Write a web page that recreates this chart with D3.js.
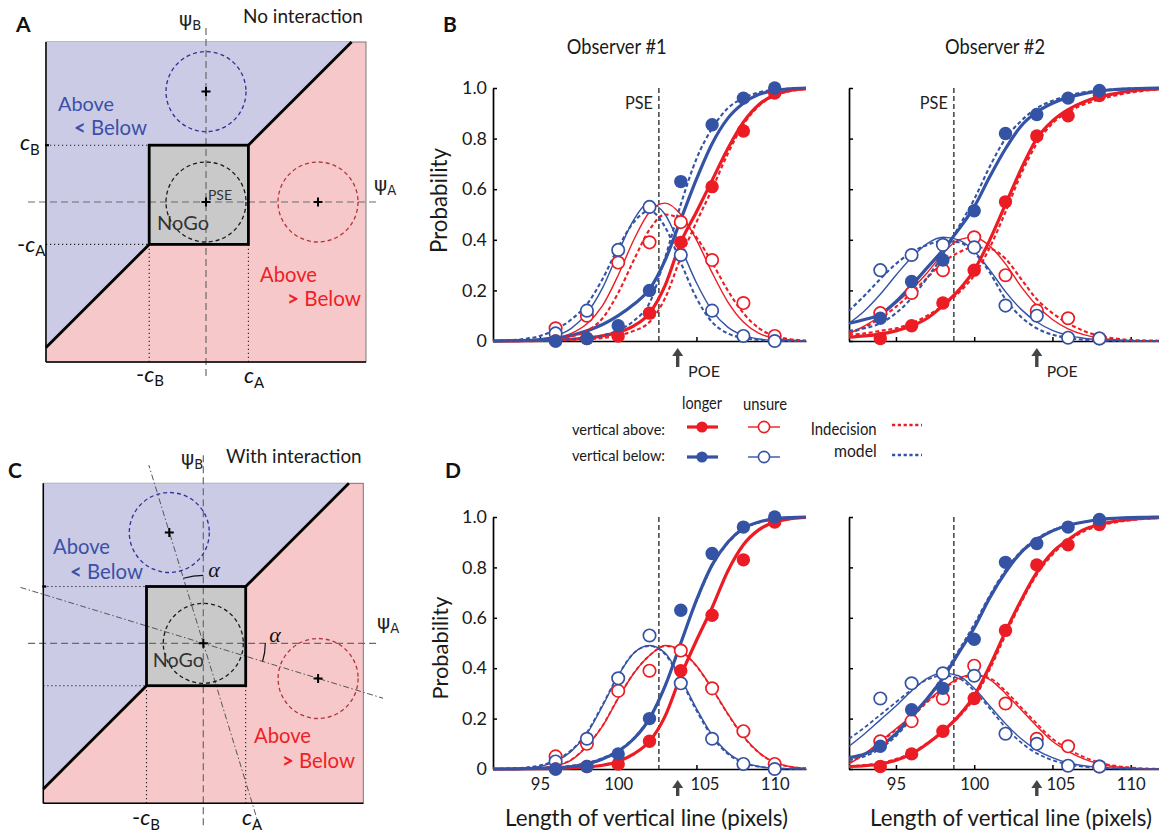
<!DOCTYPE html>
<html>
<head>
<meta charset="utf-8">
<script src="https://cdn.jsdelivr.net/npm/d3@7"></script>
<style>
html,body{margin:0;padding:0;background:#fff;}
svg{display:block;}
</style>
</head>
<body>
<svg id="fig" width="1159" height="835" xmlns="http://www.w3.org/2000/svg"></svg>
<script>
// ================= DATA =================
const lengthGrid = [92,93,94,95,96,97,98,99,100,101,102,103,104,105,106,107,108,109,110,111,112];
const xTicks = [95,100,105,110];
const probTicks = [0,0.2,0.4,0.6,0.8,1.0];

// Observer #1 measured proportions
const obs1Lengths     = [96,98,100,102,104,106,108,110];
const obs1LongerAbove = [0.00,0.01,0.02,0.11,0.39,0.61,0.83,0.98];
const obs1LongerBelow = [0.00,0.01,0.06,0.20,0.63,0.855,0.96,1.00];
const obs1UnsureAbove = [0.05,0.10,0.31,0.39,0.47,0.32,0.15,0.02];
const obs1UnsureBelow = [0.03,0.12,0.36,0.53,0.34,0.12,0.02,0.00];
// Observer #2 measured proportions
const obs2Lengths     = [94,96,98,100,102,104,106,108];
const obs2LongerAbove = [0.01,0.06,0.15,0.28,0.55,0.81,0.89,0.97];
const obs2LongerBelow = [0.09,0.235,0.32,0.515,0.82,0.895,0.96,0.99];
const obs2UnsureAbove = [0.11,0.19,0.28,0.41,0.26,0.12,0.09,0.01];
const obs2UnsureBelow = [0.28,0.34,0.38,0.37,0.14,0.10,0.013,0.01];

const obs1PSE = 102.6, obs1POE = 103.8;
const obs2PSE = 98.7,  obs2POE = 104.0;

// ---- Panel B, observer #1: full model fits (solid) ----
const b1FitLongerAbove = [0,0,0.001,0.002,0.004,0.007,0.012,0.02,0.035,0.06,0.11,0.22,0.39,0.51,0.635,0.76,0.865,0.935,0.972,0.99,0.997];
const b1FitLongerBelow = [0,0.001,0.002,0.005,0.01,0.022,0.04,0.065,0.10,0.145,0.205,0.32,0.48,0.64,0.78,0.88,0.94,0.975,0.99,0.997,1.0];
const b1FitUnsureAbove = [0,0.001,0.002,0.005,0.012,0.03,0.068,0.14,0.26,0.40,0.51,0.545,0.50,0.40,0.27,0.155,0.075,0.03,0.011,0.004,0.001];
const b1FitUnsureBelow = [0,0.001,0.003,0.008,0.02,0.05,0.11,0.21,0.35,0.48,0.545,0.50,0.37,0.23,0.12,0.055,0.022,0.008,0.003,0.001,0];
// ---- Panel B, observer #1: indecision model (dotted) ----
const b1IndLongerAbove = [0,0,0,0.001,0.002,0.004,0.007,0.012,0.022,0.04,0.075,0.17,0.33,0.47,0.60,0.74,0.855,0.93,0.97,0.988,0.996];
const b1IndLongerBelow = [0,0,0.001,0.002,0.004,0.007,0.012,0.022,0.042,0.08,0.15,0.33,0.54,0.72,0.84,0.92,0.96,0.983,0.993,0.998,1.0];
const b1IndUnsureAbove = [0,0,0.001,0.003,0.007,0.018,0.04,0.09,0.19,0.32,0.44,0.50,0.48,0.41,0.31,0.20,0.11,0.05,0.02,0.007,0.002];
const b1IndUnsureBelow = [0.001,0.003,0.008,0.02,0.045,0.085,0.145,0.245,0.37,0.47,0.515,0.45,0.31,0.17,0.075,0.03,0.012,0.004,0.001,0,0];

// ---- Panel B, observer #2 ----
const b2FitLongerAbove = [0.015,0.02,0.027,0.04,0.06,0.09,0.14,0.20,0.28,0.40,0.54,0.68,0.80,0.87,0.915,0.945,0.965,0.978,0.988,0.994,0.997];
const b2FitLongerBelow = [0.07,0.085,0.105,0.155,0.22,0.29,0.36,0.44,0.53,0.65,0.76,0.85,0.905,0.94,0.963,0.978,0.988,0.994,0.997,0.999,1.0];
const b2FitUnsureAbove = [0.03,0.06,0.10,0.15,0.205,0.27,0.345,0.40,0.41,0.375,0.305,0.215,0.14,0.085,0.048,0.025,0.012,0.005,0.002,0.001,0];
const b2FitUnsureBelow = [0.07,0.12,0.185,0.26,0.33,0.385,0.41,0.40,0.355,0.28,0.195,0.125,0.075,0.042,0.022,0.011,0.005,0.002,0.001,0,0];
const b2IndLongerAbove = [0.025,0.03,0.04,0.05,0.07,0.10,0.14,0.19,0.26,0.37,0.51,0.66,0.78,0.86,0.905,0.935,0.955,0.97,0.982,0.99,0.995];
const b2IndLongerBelow = [0.04,0.05,0.07,0.11,0.17,0.25,0.34,0.45,0.56,0.69,0.80,0.87,0.92,0.95,0.97,0.983,0.99,0.995,0.998,0.999,1.0];
const b2IndUnsureAbove = [0.03,0.055,0.09,0.135,0.19,0.25,0.31,0.35,0.37,0.365,0.325,0.245,0.165,0.11,0.07,0.04,0.02,0.01,0.004,0.002,0.001];
const b2IndUnsureBelow = [0.12,0.18,0.245,0.305,0.35,0.38,0.395,0.39,0.35,0.27,0.165,0.095,0.05,0.025,0.012,0.005,0.002,0.001,0,0,0];

// ---- Panel D, observer #1 ----
const d1FitLongerAbove = [0,0,0.001,0.001,0.002,0.004,0.008,0.015,0.03,0.06,0.11,0.21,0.37,0.51,0.64,0.785,0.89,0.95,0.98,0.993,0.998];
const d1FitLongerBelow = [0,0,0.001,0.003,0.005,0.01,0.02,0.04,0.07,0.12,0.20,0.33,0.50,0.67,0.81,0.90,0.955,0.98,0.993,0.998,1.0];
const d1FitUnsureAbove = [0,0,0.001,0.004,0.012,0.035,0.09,0.17,0.28,0.38,0.45,0.49,0.47,0.41,0.32,0.22,0.13,0.065,0.026,0.009,0.003];
const d1FitUnsureBelow = [0,0.001,0.003,0.01,0.03,0.07,0.14,0.25,0.37,0.46,0.49,0.46,0.36,0.24,0.135,0.065,0.027,0.01,0.003,0.001,0];
const d1IndLongerAbove = [0,0,0.001,0.001,0.002,0.004,0.008,0.016,0.031,0.061,0.112,0.212,0.372,0.512,0.642,0.785,0.888,0.948,0.978,0.992,0.997];
const d1IndLongerBelow = [0,0.001,0.002,0.004,0.007,0.013,0.024,0.044,0.074,0.124,0.204,0.334,0.50,0.665,0.805,0.895,0.952,0.978,0.991,0.997,1.0];
const d1IndUnsureAbove = [0,0,0.001,0.004,0.013,0.037,0.092,0.172,0.282,0.381,0.45,0.488,0.468,0.408,0.318,0.218,0.128,0.064,0.025,0.009,0.003];
const d1IndUnsureBelow = [0.001,0.003,0.006,0.014,0.035,0.075,0.145,0.255,0.372,0.46,0.488,0.455,0.352,0.232,0.128,0.06,0.024,0.009,0.003,0.001,0];

// ---- Panel D, observer #2 ----
const d2FitLongerAbove = [0.01,0.013,0.02,0.035,0.06,0.10,0.15,0.21,0.29,0.41,0.545,0.67,0.78,0.86,0.91,0.95,0.97,0.983,0.99,0.995,0.998];
const d2FitLongerBelow = [0.045,0.06,0.09,0.14,0.21,0.28,0.36,0.46,0.56,0.68,0.78,0.86,0.91,0.945,0.967,0.98,0.99,0.995,0.998,0.999,1.0];
const d2FitUnsureAbove = [0.02,0.06,0.11,0.16,0.21,0.27,0.32,0.36,0.375,0.355,0.30,0.235,0.17,0.11,0.07,0.04,0.02,0.009,0.004,0.001,0];
const d2FitUnsureBelow = [0.09,0.14,0.195,0.25,0.31,0.36,0.38,0.37,0.32,0.25,0.18,0.12,0.075,0.045,0.024,0.013,0.007,0.003,0.001,0,0];
const d2IndLongerAbove = [0.012,0.016,0.024,0.04,0.065,0.103,0.15,0.205,0.28,0.395,0.53,0.66,0.77,0.85,0.905,0.942,0.965,0.978,0.987,0.993,0.996];
const d2IndLongerBelow = [0.035,0.05,0.08,0.13,0.20,0.28,0.37,0.47,0.575,0.69,0.79,0.865,0.915,0.948,0.968,0.98,0.988,0.993,0.996,0.998,0.999];
const d2IndUnsureAbove = [0.025,0.06,0.105,0.155,0.205,0.265,0.315,0.355,0.37,0.36,0.31,0.245,0.18,0.12,0.08,0.048,0.026,0.013,0.006,0.002,0.001];
const d2IndUnsureBelow = [0.12,0.165,0.215,0.265,0.315,0.355,0.37,0.36,0.31,0.24,0.165,0.105,0.062,0.035,0.018,0.009,0.004,0.002,0.001,0,0];

// ---- Decision-space diagrams (A, C) ----
const criterionA = 1.06, criterionB = 1.42;     // cA, cB
const interactionAngleDeg = 17;                  // alpha
const meansNoInteraction = [[0,0],[0,2.76],[2.8,0]];
const meansInteraction   = [[0,0],[-0.85,2.77],[2.87,-0.88]];
const noiseRadius = 1.0;

// ================= STYLE =================
const FONT = "Lato, 'Liberation Sans', Arial, sans-serif";
const RED = "#ec1c24", BLUE = "#3453a4";
const LAV = "#cbcbe6", PINK = "#f7c8c9", NOGO = "#c9c9c9";
const TXT_BLUE = "#3b50a8", TXT_RED = "#ee1f26";
const meanColors = ["#1a1a1a","#2e3192","#b0353a"];

const svg = d3.select("#fig");
svg.append("rect").attr("width",1159).attr("height",835).attr("fill","#fff");

// ---------- text helpers ----------
// o.w alone: font size fitted to width; o.w + o.size: given size, squeezed/stretched to width
function rich(g, parts, o){
  const t = g.append("text").attr("font-family", o.family || FONT).attr("font-size", 100)
    .attr("fill", o.fill || "#1a1a1a").attr("text-anchor", o.anchor || "start");
  if (o.weight) t.attr("font-weight", o.weight);
  if (o.style) t.attr("font-style", o.style);
  parts.forEach(p => {
    const s = t.append("tspan").text(p.t);
    if (p.weight) s.attr("font-weight", p.weight);
    if (p.style) s.attr("font-style", p.style);
    if (p.size) s.attr("font-size", p.size + "em");
    if (p.dy != null) s.attr("dy", p.dy + "em");
    if (p.family) s.attr("font-family", p.family);
  });
  let size = o.size || 20;
  if (o.w && !o.size) { const w = t.node().getComputedTextLength(); size = 100 * o.w / w; }
  t.attr("font-size", size.toFixed(2));
  if (o.w && o.size) t.attr("textLength", o.w).attr("lengthAdjust", "spacingAndGlyphs");
  if (o.rotate) t.attr("transform", `translate(${o.x},${o.y}) rotate(${o.rotate})`);
  else t.attr("x", o.x).attr("y", o.y);
  return t;
}
function label(g, str, o){ return rich(g, [{t:str}], o); }
function fitSize(str, w, weight){
  const t = svg.append("text").attr("font-family", FONT).attr("font-size", 100).text(str);
  if (weight) t.attr("font-weight", weight);
  const s = 100 * w / t.node().getComputedTextLength(); t.remove(); return s;
}

// ================= DIAGRAM PANELS (A, C) =================
function diagram(cfg){
  const sx = d3.scaleLinear().domain([-4,4]).range(cfg.xr);
  const sy = d3.scaleLinear().domain([-4,4]).range(cfg.yr);
  const g = svg.append("g");
  const cA = criterionA, cB = criterionB, run = 4 - cB;
  const P = p => [sx(p[0]), sy(p[1])];
  const ln = d3.line();

  g.append("rect").attr("x", sx(-4)).attr("y", sy(4)).attr("width", sx(4)-sx(-4)).attr("height", sy(-4)-sy(4))
    .attr("fill", PINK).attr("stroke", "#6a6a6a").attr("stroke-width", 0.9);
  const bluePoly = [[-4,4],[cA+run,4],[cA,cB],[-cB,cB],[-cB,-cA],[-4,-cA-run]];
  g.append("path").attr("d", ln(bluePoly.map(P)) + "Z").attr("fill", LAV);

  // dotted guides
  const dotted = (a,b) => g.append("line").attr("x1",P(a)[0]).attr("y1",P(a)[1]).attr("x2",P(b)[0]).attr("y2",P(b)[1])
      .attr("stroke","#222").attr("stroke-width",1.1).attr("stroke-dasharray","1.2,2.8");
  dotted([-4,cB],[-cB,cB]); dotted([-4,-cA],[-cB,-cA]);
  dotted([-cB,-4],[-cB,-cA]); dotted([cA,-4],[cA,-cA]);

  // NoGo box fill
  g.append("rect").attr("x", sx(-cB)).attr("y", sy(cB)).attr("width", sx(cA)-sx(-cB)).attr("height", sy(-cA)-sy(cB)).attr("fill", NOGO);

  // dashed psi axes
  g.append("line").attr("x1", sx(cfg.axX[0])).attr("x2", sx(cfg.axX[1])).attr("y1", sy(0)).attr("y2", sy(0))
    .attr("stroke","#6a6a6a").attr("stroke-width",1.2).attr("stroke-dasharray","7,4");
  g.append("line").attr("x1", sx(0)).attr("x2", sx(0)).attr("y1", sy(cfg.axY[1])).attr("y2", sy(cfg.axY[0]))
    .attr("stroke","#6a6a6a").attr("stroke-width",1.2).attr("stroke-dasharray","7,4");

  // rotated axes (interaction)
  if (cfg.rotated) {
    const a = interactionAngleDeg * Math.PI / 180;
    const u = [-Math.sin(a), Math.cos(a)], v = [Math.cos(a), -Math.sin(a)];
    const seg = (dir, t0, t1) => g.append("path").attr("d", ln([[dir[0]*t0, dir[1]*t0],[dir[0]*t1, dir[1]*t1]].map(P)))
      .attr("stroke","#555").attr("stroke-width",1).attr("fill","none").attr("stroke-dasharray","6,2.5,1.5,2.5");
    seg(u, -4.8, 4.66); seg(v, -4.78, 4.7);
    const c = P([0,0]);
    const p1 = d3.path(); p1.arc(c[0], c[1], 68, -Math.PI/2 - a, -Math.PI/2);
    const p2 = d3.path(); p2.arc(c[0], c[1], 62, 0, a);
    [p1,p2].forEach(p => g.append("path").attr("d", p.toString()).attr("fill","none").attr("stroke","#111").attr("stroke-width",1.2));
  }

  // noise circles
  cfg.means.forEach((m,i) => g.append("circle").attr("cx", sx(m[0])).attr("cy", sy(m[1])).attr("r", sx(noiseRadius)-sx(0))
    .attr("fill","none").attr("stroke", meanColors[i]).attr("stroke-width",1.3).attr("stroke-dasharray","4,3"));

  // decision boundaries
  g.append("path").attr("d", ln([[-4,-cA-run],[-cB,-cA]].map(P))).attr("stroke","#000").attr("stroke-width",2.8).attr("fill","none");
  g.append("path").attr("d", ln([[cA,cB],[cA+run,4]].map(P))).attr("stroke","#000").attr("stroke-width",2.8).attr("fill","none");
  g.append("rect").attr("x", sx(-cB)).attr("y", sy(cB)).attr("width", sx(cA)-sx(-cB)).attr("height", sy(-cA)-sy(cB))
    .attr("fill","none").attr("stroke","#000").attr("stroke-width",2.8);

  // crosses
  cfg.means.forEach(m => { const [px,py] = P(m);
    g.append("path").attr("d", `M${px-4.5},${py}H${px+4.5}M${px},${py-4.5}V${py+4.5}`).attr("stroke","#000").attr("stroke-width",2); });

  // left & bottom axes
  g.append("line").attr("x1", sx(-4)).attr("x2", sx(-4)).attr("y1", sy(4)).attr("y2", sy(-4)).attr("stroke","#000").attr("stroke-width",1.5);
  g.append("line").attr("x1", sx(-4)).attr("x2", sx(4)).attr("y1", sy(-4)).attr("y2", sy(-4)).attr("stroke","#000").attr("stroke-width",1.5);
  g.append("line").attr("x1", sx(-4)-1).attr("x2", sx(-4)+3).attr("y1", sy(cB)).attr("y2", sy(cB)).attr("stroke","#000").attr("stroke-width",2.2);

  // texts
  const T = cfg.text;
  label(g, cfg.letter, {x:T.letter[0], y:T.letter[1], size:21, weight:"bold", fill:"#111"});
  label(g, cfg.title, {x:T.title[0], y:T.title[1], w:T.title[2], fill:"#1a1a1a"});
  rich(g, [{t:"ψ"},{t:"B", size:0.66, dy:0.3}], {x:T.psiB[0], y:T.psiB[1], size:20, fill:"#222", family:"'DejaVu Sans', sans-serif"});
  rich(g, [{t:"ψ"},{t:"A", size:0.66, dy:0.3}], {x:T.psiA[0], y:T.psiA[1], size:20, fill:"#222", family:"'DejaVu Sans', sans-serif"});
  label(g, "Above", {x:T.aboveB[0], y:T.aboveB[1], w:T.aboveB[2], fill:TXT_BLUE});
  rich(g, [{t:"<", weight:"bold"},{t:" Below"}], {x:T.belowB[0], y:T.belowB[1], w:T.belowB[2], fill:TXT_BLUE});
  label(g, "Above", {x:T.aboveR[0], y:T.aboveR[1], w:T.aboveR[2], fill:TXT_RED});
  rich(g, [{t:">", weight:"bold"},{t:" Below"}], {x:T.belowR[0], y:T.belowR[1], w:T.belowR[2], fill:TXT_RED});
  label(g, "NoGo", {x:T.nogo[0], y:T.nogo[1], w:T.nogo[2], fill:"#333"});
  if (T.pse) label(g, "PSE", {x:T.pse[0], y:T.pse[1], w:T.pse[2], fill:"#333"});
  const cLab = (pos, neg, sub) => rich(g, (neg ? [{t:"-"}] : []).concat([{t:"c", style:"italic"},{t:sub, size:0.68, dy:0.32}]),
      {x:pos[0], y:pos[1], size:22, fill:"#111"});
  T.cLabels.forEach(c => cLab(c.pos, c.neg, c.sub));
  if (T.alpha) T.alpha.forEach(p => label(g, "α", {x:p[0], y:p[1], size:22, anchor:"middle", fill:"#111", family:"'Liberation Serif', serif", style:"italic"}));
}

diagram({
  xr:[46,366], yr:[362,42], means: meansNoInteraction, axX:[-4.45,4.35], axY:[-4.45,4.35], rotated:false,
  letter:"A", title:"No interaction",
  text:{ letter:[16,32], title:[243,23,120], psiB:[179,26], psiA:[374,191],
    aboveB:[58,111,56], belowB:[74,135,73], aboveR:[260,282,57], belowR:[287,306,74],
    nogo:[157,230,52], pse:[208,200,24],
    cLabels:[{pos:[20,150],neg:false,sub:"B"},{pos:[17,251.5],neg:true,sub:"A"},{pos:[136,381.5],neg:true,sub:"B"},{pos:[244,383],neg:false,sub:"A"}] }
});
diagram({
  xr:[43.3,363.3], yr:[803.3,483.3], means: meansInteraction, axX:[-4.38,4.42], axY:[-4.55,4.7], rotated:true,
  letter:"C", title:"With interaction",
  text:{ letter:[8,478], title:[226,463,135.7], psiB:[181,465], psiA:[377,629],
    aboveB:[53,554,57], belowB:[70,579,73], aboveR:[254,743,57], belowR:[282,768,73],
    nogo:[152.7,667,51.3], pse:null,
    cLabels:[{pos:[132,825],neg:true,sub:"B"},{pos:[242,825],neg:false,sub:"A"}],
    alpha:[[214,577],[275,642]] }
});

// ================= PSYCHOMETRIC PANELS (B, D) =================
const xTickSize = fitSize("100", 29), yTickSize = fitSize("1.0", 25);

function psychPanel(cfg){
  const x = d3.scaleLinear().domain([92,112]).range(cfg.xr);
  const y = d3.scaleLinear().domain([0,1]).range(cfg.yr);
  const g = svg.append("g");

  // axes
  const ya = d3.axisLeft(y).tickValues(probTicks).tickSize(-4).tickSizeOuter(0).tickPadding(6)
    .tickFormat(cfg.yLabels ? (d => d === 0 ? "0" : d3.format(".1f")(d)) : (() => ""));
  const yg = g.append("g").attr("transform", `translate(${cfg.xr[0]},0)`).call(ya);
  const xa = d3.axisBottom(x).tickValues(xTicks).tickSize(-4).tickSizeOuter(0).tickPadding(9)
    .tickFormat(cfg.xLabels ? d3.format("d") : (() => ""));
  const xg = g.append("g").attr("transform", `translate(0,${cfg.yr[0]})`).call(xa);
  yg.attr("font-family", FONT).attr("font-size", yTickSize.toFixed(2));
  xg.attr("font-family", FONT).attr("font-size", xTickSize.toFixed(2));
  // the "105" label sits just right of the POE arrow
  xg.selectAll(".tick").filter(d => d === 105).select("text").attr("dx", 8);
  [yg, xg].forEach(a => {
    a.select(".domain").attr("stroke","#000").attr("stroke-width",1.7);
    a.selectAll(".tick line").attr("stroke","#000").attr("stroke-width",1.5);
    a.selectAll(".tick text").attr("fill","#1a1a1a");
  });

  // PSE line
  g.append("line").attr("x1", x(cfg.pse)).attr("x2", x(cfg.pse)).attr("y1", y(1)).attr("y2", y(0))
    .attr("stroke","#222").attr("stroke-width",1.3).attr("stroke-dasharray","5,3");

  const line = d3.line().x((d,i) => x(lengthGrid[i])).y(d => y(d)).curve(d3.curveMonotoneX);
  const colors = [RED, BLUE, RED, BLUE];
  const drawModel = () => [2,3,0,1].forEach(k => g.append("path").attr("d", line(cfg.model[k])).attr("fill","none")
      .attr("stroke", colors[k]).attr("stroke-width", cfg.modelW).attr("stroke-dasharray","4,2.6"));
  if (!cfg.modelOnTop) drawModel();
  [2,3].forEach(k => g.append("path").attr("d", line(cfg.fit[k])).attr("fill","none").attr("stroke", colors[k]).attr("stroke-width",1.4));
  [0,1].forEach(k => g.append("path").attr("d", line(cfg.fit[k])).attr("fill","none").attr("stroke", colors[k]).attr("stroke-width",3.2));
  if (cfg.modelOnTop) drawModel();

  // markers: unsure (open) first, then longer (filled)
  const mark = (vals, color, filled) => g.append("g").selectAll("circle").data(vals).join("circle")
    .attr("cx", (d,i) => x(cfg.lengths[i])).attr("cy", d => y(d)).attr("r", filled ? 6.7 : 6.2)
    .attr("fill", filled ? color : "#fff").attr("stroke", filled ? "none" : color).attr("stroke-width", 1.7);
  mark(cfg.pts[2], RED, false); mark(cfg.pts[3], BLUE, false);
  mark(cfg.pts[0], RED, true);  mark(cfg.pts[1], BLUE, true);

  // POE arrow
  const ax = x(cfg.poe), [tip, bot] = cfg.arrow;
  g.append("line").attr("x1", ax).attr("x2", ax).attr("y1", bot).attr("y2", tip + 6).attr("stroke","#444").attr("stroke-width",3.4);
  g.append("path").attr("d", `M${ax-5.5},${tip+8}L${ax},${tip}L${ax+5.5},${tip+8}Z`).attr("fill","#444");

  const T = cfg.text;
  if (T.pse) label(g, "PSE", {x: x(cfg.pse) - 6, y: T.pse[1], w: T.pse[2], anchor:"end", fill:"#222"});
  if (T.poe) label(g, "POE", {x: T.poe[0], y: T.poe[1], w: T.poe[2], fill:"#222"});
  if (T.prob) label(g, "Probability", {x: T.prob[0], y: T.prob[1], w: T.prob[2], rotate:-90, anchor:"middle", fill:"#1a1a1a"});
  if (T.xlab) label(g, "Length of vertical line (pixels)", {x: T.xlab[0], y: T.xlab[1], w: T.xlab[2], fill:"#1a1a1a"});
  if (T.title) label(g, T.title[3], {x: T.title[0], y: T.title[1], w: T.title[2], size: 20.5, fill:"#1a1a1a"});
}

psychPanel({ xr:[493,806], yr:[341,88], pse:obs1PSE, poe:obs1POE, lengths:obs1Lengths,
  pts:[obs1LongerAbove, obs1LongerBelow, obs1UnsureAbove, obs1UnsureBelow],
  fit:[b1FitLongerAbove, b1FitLongerBelow, b1FitUnsureAbove, b1FitUnsureBelow],
  model:[b1IndLongerAbove, b1IndLongerBelow, b1IndUnsureAbove, b1IndUnsureBelow],
  modelOnTop:true, modelW:2.1, yLabels:true, xLabels:false, arrow:[348,367],
  text:{ pse:[0,108.5,28], poe:[688,377,32], prob:[447,200.5,105], title:[566.7,54,100,"Observer #1"] } });
psychPanel({ xr:[849,1162], yr:[341,88], pse:obs2PSE, poe:obs2POE, lengths:obs2Lengths,
  pts:[obs2LongerAbove, obs2LongerBelow, obs2UnsureAbove, obs2UnsureBelow],
  fit:[b2FitLongerAbove, b2FitLongerBelow, b2FitUnsureAbove, b2FitUnsureBelow],
  model:[b2IndLongerAbove, b2IndLongerBelow, b2IndUnsureAbove, b2IndUnsureBelow],
  modelOnTop:true, modelW:2.1, yLabels:false, xLabels:false, arrow:[348,367],
  text:{ pse:[0,108.5,28], poe:[1046.7,377,31], title:[945,54,100,"Observer #2"] } });
psychPanel({ xr:[493,806], yr:[769,517], pse:obs1PSE, poe:obs1POE, lengths:obs1Lengths,
  pts:[obs1LongerAbove, obs1LongerBelow, obs1UnsureAbove, obs1UnsureBelow],
  fit:[d1FitLongerAbove, d1FitLongerBelow, d1FitUnsureAbove, d1FitUnsureBelow],
  model:[d1IndLongerAbove, d1IndLongerBelow, d1IndUnsureAbove, d1IndUnsureBelow],
  modelOnTop:false, modelW:1.8, yLabels:true, xLabels:true, arrow:[780,796],
  text:{ prob:[448,648,103], xlab:[505,826,283] } });
psychPanel({ xr:[849,1162], yr:[769,517], pse:obs2PSE, poe:obs2POE, lengths:obs2Lengths,
  pts:[obs2LongerAbove, obs2LongerBelow, obs2UnsureAbove, obs2UnsureBelow],
  fit:[d2FitLongerAbove, d2FitLongerBelow, d2FitUnsureAbove, d2FitUnsureBelow],
  model:[d2IndLongerAbove, d2IndLongerBelow, d2IndUnsureAbove, d2IndUnsureBelow],
  modelOnTop:false, modelW:1.8, yLabels:false, xLabels:true, arrow:[780,796],
  text:{ xlab:[870,826,282] } });

// panel letters B, D
label(svg, "B", {x:443, y:32, size:21, weight:"bold", fill:"#111"});
label(svg, "D", {x:445, y:478, size:21, weight:"bold", fill:"#111"});

// ================= LEGEND =================
const lg = svg.append("g");
label(lg, "longer", {x:702, y:409, w:40, size:16.5, anchor:"middle"});
label(lg, "unsure", {x:765, y:410, w:44, size:16.5, anchor:"middle"});
label(lg, "vertical above:", {x:665, y:435, w:93, size:16, anchor:"end"});
label(lg, "vertical below:", {x:665, y:461, w:93, size:16, anchor:"end"});
label(lg, "Indecision", {x:876.7, y:435, w:66, size:16.5, anchor:"end"});
label(lg, "model", {x:876.7, y:457, w:42.7, size:16.5, anchor:"end"});
[[RED,427],[BLUE,457]].forEach(([c,yy]) => {
  lg.append("line").attr("x1",687).attr("x2",718).attr("y1",yy).attr("y2",yy).attr("stroke",c).attr("stroke-width",3.2);
  lg.append("circle").attr("cx",702).attr("cy",yy).attr("r",5.6).attr("fill",c);
  lg.append("line").attr("x1",748).attr("x2",780).attr("y1",yy).attr("y2",yy).attr("stroke",c).attr("stroke-width",1.4);
  lg.append("circle").attr("cx",764).attr("cy",yy).attr("r",5.6).attr("fill","#fff").attr("stroke",c).attr("stroke-width",1.6);
});
[[RED,425],[BLUE,455]].forEach(([c,yy]) =>
  lg.append("line").attr("x1",892).attr("x2",922).attr("y1",yy).attr("y2",yy).attr("stroke",c).attr("stroke-width",2.6).attr("stroke-dasharray","3.2,2.6"));
</script>
</body>
</html>
